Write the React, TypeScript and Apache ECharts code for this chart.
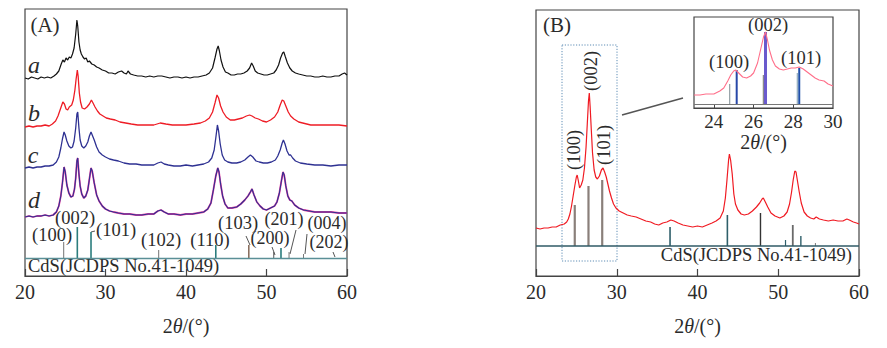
import React, { useEffect, useRef } from "react";
import * as echarts from "echarts";

const FONT = "'Liberation Serif', 'Times New Roman', serif";
const TXT = "#2b2b2b";

// ---------- Panel A curves (heights above frame bottom) ----------
const A_CURVE_A = [[20,198],[20.4,197],[20.8,199],[21.2,198],[21.6,197],[22,199],[22.4,198],[22.8,199],[23.2,198],[23.6,200],[23.9,202],[24.2,205],[24.5,212],[24.7,216],[24.9,214],[25.1,218],[25.3,216],[25.5,219],[25.7,218],[25.9,222],[26.1,228],[26.3,242],[26.45,256],[26.55,250],[26.7,234],[26.85,226],[27.0,222],[27.2,219],[27.4,217],[27.6,218],[27.8,214],[28.0,215],[28.3,212],[28.6,211],[28.9,209],[29.2,208],[29.6,206],[30.0,205],[30.4,203],[30.8,203],[31.2,202],[31.6,204],[32.0,205],[32.3,203],[32.6,202],[32.8,205],[33.1,202],[33.5,201],[34,200],[34.5,200],[35,199],[35.5,200],[36,199],[36.5,200],[37,200],[37.5,199],[38,198],[38.5,199],[39,199],[39.5,198],[40,199],[40.5,198],[41,199],[41.5,199],[42,200],[42.5,201],[42.9,203],[43.3,208],[43.6,218],[43.85,227],[44.0,230],[44.15,225],[44.35,216],[44.6,209],[44.9,204],[45.2,203],[45.6,201],[46.0,201],[46.4,202],[46.8,202],[47.2,203],[47.6,205],[47.9,208],[48.15,213],[48.35,210],[48.6,205],[48.9,203],[49.3,202],[49.7,201],[50.1,201],[50.5,202],[50.9,203],[51.2,206],[51.5,211],[51.75,218],[52.0,223],[52.15,224],[52.35,219],[52.6,213],[52.9,208],[53.2,205],[53.6,203],[54,202],[54.5,201],[55,200],[55.5,200],[56,199],[56.5,199],[57,200],[57.5,199],[58,199],[58.5,200],[59,200],[59.4,202],[59.7,203],[60,201]];
const A_CURVE_B = [[20,149],[20.5,150],[21,149],[21.5,150],[22,150],[22.5,151],[23,150],[23.4,152],[23.8,155],[24.1,160],[24.4,167],[24.7,174],[24.9,172],[25.1,167],[25.3,166],[25.5,169],[25.8,171],[26.0,176],[26.2,186],[26.35,197],[26.5,206],[26.6,200],[26.75,183],[26.9,174],[27.1,168],[27.4,167],[27.7,169],[28.0,172],[28.25,176],[28.45,173],[28.7,169],[29.0,165],[29.3,162],[29.7,160],[30.1,158],[30.6,157],[31.2,156],[31.8,154],[32.5,153],[33.2,152],[34,151],[35,151],[36,151],[36.8,153],[37.5,152],[38.3,151],[39,151],[40,151],[41,152],[41.8,153],[42.4,155],[42.9,158],[43.3,164],[43.6,173],[43.85,181],[44.05,178],[44.3,170],[44.6,164],[45.0,159],[45.5,156],[46.0,156],[46.5,157],[47.0,158],[47.5,160],[47.9,161],[48.2,160],[48.6,158],[49.0,157],[49.5,155],[50.0,154],[50.5,156],[51.0,159],[51.4,164],[51.7,171],[51.95,176],[52.15,175],[52.4,170],[52.7,164],[53.0,160],[53.4,157],[54,154],[54.5,153],[55,152],[55.5,151],[56,151],[57,151],[58,151],[59,151],[60,150]];
const A_CURVE_C = [[20,108],[20.5,109],[21,108],[21.5,109],[22,109],[22.5,110],[23,110],[23.5,111],[23.9,114],[24.2,119],[24.45,128],[24.65,137],[24.85,144],[25.0,141],[25.2,135],[25.45,130],[25.7,128],[25.9,129],[26.1,135],[26.3,148],[26.45,162],[26.55,164],[26.7,148],[26.85,136],[27.05,130],[27.3,128],[27.55,130],[27.8,134],[28.0,140],[28.2,144],[28.35,141],[28.6,136],[28.9,129],[29.2,124],[29.6,121],[30.0,119],[30.5,117],[31.0,116],[31.6,115],[32.3,113],[33,112],[33.8,112],[34.5,111],[35.3,111],[36.0,111],[36.5,113],[36.9,114],[37.3,112],[37.8,111],[38.5,110],[39.3,110],[40,111],[40.8,110],[41.5,111],[42.2,112],[42.8,114],[43.2,118],[43.5,126],[43.7,138],[43.9,151],[44.05,145],[44.25,132],[44.5,121],[44.8,116],[45.2,114],[45.7,113],[46.3,113],[46.8,114],[47.3,116],[47.7,119],[48.0,121],[48.3,119],[48.7,115],[49.1,114],[49.6,113],[50.1,113],[50.6,114],[51.1,116],[51.4,120],[51.7,126],[51.95,133],[52.1,136],[52.3,132],[52.55,125],[52.8,121],[53.0,121],[53.25,118],[53.6,115],[54.2,113],[55,112],[56,111],[57,111],[58,110],[59,111],[60,111]];
const A_CURVE_D = [[20,59],[20.5,60],[21,59],[21.5,60],[22,60],[22.5,61],[23,60],[23.5,61],[23.9,64],[24.2,70],[24.45,80],[24.65,93],[24.85,109],[25.0,104],[25.2,91],[25.45,83],[25.7,79],[25.95,80],[26.15,87],[26.3,98],[26.45,115],[26.55,118],[26.7,102],[26.85,90],[27.05,82],[27.3,78],[27.55,80],[27.8,86],[28.0,97],[28.2,108],[28.35,105],[28.6,93],[28.9,81],[29.2,75],[29.6,70],[30.0,67],[30.5,65],[31.0,64],[31.6,63],[32.3,62],[33,62],[33.8,61],[34.5,61],[35.3,62],[36.0,62],[36.5,65],[36.9,66],[37.3,64],[37.8,62],[38.5,62],[39.3,61],[40,62],[40.8,62],[41.5,63],[42.2,64],[42.7,67],[43.1,73],[43.4,86],[43.7,100],[43.95,108],[44.1,104],[44.3,92],[44.55,80],[44.85,72],[45.2,68],[45.7,68],[46.3,69],[46.8,72],[47.3,76],[47.7,80],[48.0,84],[48.2,87],[48.45,81],[48.8,74],[49.2,70],[49.6,67],[50.0,66],[50.5,68],[51.0,70],[51.3,74],[51.6,83],[51.85,95],[52.05,104],[52.2,101],[52.4,90],[52.65,80],[52.9,76],[53.15,75],[53.5,71],[54.0,68],[54.6,66],[55.3,65],[56,64],[57,64],[58,64],[59,63],[60,63]];

// reference sticks (JCPDS 41-1049)
const STICK_POS = [24.8, 26.5, 28.2, 36.6, 43.7, 47.8, 50.9, 51.8, 52.8, 54.6];
const A_STICK_TOP = [34, 49, 44, 26, 31, 31, 24, 28, 24, 22];
const A_STICK_BASE = 18;
const B_STICK_TOP = [71, 90, 96, 49, 61, 63, 36, 51, 40, 33];
const B_STICK_BASE = 30;

// ---------- Panel B curve ----------
const B_CURVE = [[20,48],[20.5,47],[21,48],[21.5,48],[22,49],[22.5,49],[23.0,51],[23.5,52],[23.8,54],[24.0,57],[24.2,62],[24.4,70],[24.6,80],[24.8,90],[25.0,99],[25.1,101],[25.25,95],[25.4,88],[25.6,91],[25.8,96],[26.0,108],[26.2,129],[26.35,152],[26.5,175],[26.6,183],[26.7,170],[26.85,146],[27.0,123],[27.2,106],[27.4,99],[27.6,97],[27.85,100],[28.1,106],[28.3,108],[28.5,104],[28.7,99],[28.9,92],[29.1,85],[29.35,78],[29.6,72],[29.9,68],[30.3,65],[30.8,63],[31.3,61],[31.8,60],[32.4,59],[33,57],[33.6,55],[34.2,54],[34.7,52],[35.2,51],[35.7,53],[36.2,54],[36.7,56],[37.1,55],[37.6,53],[38.2,51],[38.8,50],[39.4,49],[40,50],[40.6,49],[41.2,51],[41.8,53],[42.3,55],[42.8,58],[43.2,65],[43.45,78],[43.65,96],[43.85,116],[43.95,122],[44.1,116],[44.3,102],[44.5,82],[44.7,72],[45.0,66],[45.4,62],[45.8,61],[46.3,62],[46.8,65],[47.3,69],[47.7,73],[48.0,77],[48.15,78],[48.4,74],[48.7,69],[49.1,63],[49.6,60],[50.2,58],[50.7,60],[51.1,64],[51.4,72],[51.65,84],[51.85,96],[52.05,105],[52.2,104],[52.4,94],[52.6,84],[52.85,73],[53.2,64],[53.6,60],[54.0,58],[54.4,57],[54.7,59],[55.1,57],[55.6,56],[56.2,55],[56.8,56],[57.4,55],[58.0,55],[58.5,57],[58.8,56],[59.3,54],[59.7,53],[60,52]];

// ---------- Inset ----------
const INSET_CURVE = [[23.0,13],[23.3,13],[23.6,14],[24.0,14],[24.3,17],[24.5,20],[24.7,27],[24.85,33],[25.0,37],[25.1,38],[25.25,35],[25.45,31],[25.65,30],[25.85,32],[26.0,35],[26.2,45],[26.35,58],[26.5,71],[26.6,76],[26.7,68],[26.8,58],[26.95,48],[27.1,42],[27.3,39],[27.5,38],[27.7,39],[27.9,40],[28.1,40],[28.3,41],[28.5,39],[28.7,36],[28.9,33],[29.1,30],[29.3,28],[29.55,27],[29.75,24],[30.0,22]];
const INSET_STICK_POS = [24.8, 25.15, 26.5, 26.6, 28.2, 28.3];
const INSET_STICK_TOP = [24, 38, 33, 76, 35, 40];
const INSET_STICK_BASE = 4;

const X_TICKS = [20, 30, 40, 50, 60];
const INSET_TICKS = [24, 26, 28, 30];

// styles
const A_STICK_COLORS = ["#8a8a8a", "#2b7d7d", "#2b7d7d", "#8a8a8a", "#2b7d7d", "#8a7060", "#555", "#2b7d7d", "#777", "#777"];
const A_STICK_W = [1.2, 1.6, 1.6, 1.2, 1.6, 1.6, 1, 1.6, 1, 1];
const B_STICK_COLORS = ["#8a7f7a", "#8a7f7a", "#8a7f7a", "#2f5f6a", "#2f5f6a", "#333", "#2f5f6a", "#6a6a6a", "#2f5f6a", "#777"];
const B_STICK_W = [2.2, 2.2, 2.2, 1.6, 1.6, 1.4, 1.2, 1.8, 1.4, 1];
const IN_STICK_COLORS = ["#7a8a90", "#2848a8", "#8a8a8a", "#6a5acd", "#7a9ab0", "#2050a8"];
const IN_STICK_W = [1, 2, 1.5, 3, 1, 2];

function stickSeries(gridIdx: number, pos: number[], top: number[], base: number, colors: string[], widths: number[]) {
  return {
    type: "custom",
    xAxisIndex: gridIdx,
    yAxisIndex: gridIdx,
    silent: true,
    data: pos.map((p, i) => [p, top[i], i]),
    renderItem: (params: any, api: any) => {
      const x = api.value(0);
      const t = api.value(1);
      const i = api.value(2);
      const p0 = api.coord([x, base]);
      const p1 = api.coord([x, t]);
      return {
        type: "line",
        shape: { x1: p0[0], y1: p0[1], x2: p1[0], y2: p1[1] },
        style: { stroke: colors[i], lineWidth: widths[i] },
      };
    },
  };
}

function txt(text: string, x: number, y: number, size = 18.5, extra: any = {}) {
  return {
    type: "text",
    x,
    y,
    rotation: extra.rotation || 0,
    silent: true,
    style: {
      text,
      x: 0,
      y: 0,
      fill: TXT,
      font: `${extra.italic ? "italic " : ""}${size}px ${FONT}`,
      align: extra.align || "center",
      verticalAlign: "middle",
      textAlign: extra.align || "center",
      textVerticalAlign: "middle",
      rich: extra.rich,
    },
  };
}

function ln(x1: number, y1: number, x2: number, y2: number, color = "#444", w = 1) {
  return { type: "line", silent: true, shape: { x1, y1, x2, y2 }, style: { stroke: color, lineWidth: w } };
}

const thetaName = "2{i|θ}/(°)";
const thetaRich = { i: { fontStyle: "italic", fontFamily: FONT, fontSize: 20, color: TXT } };

function mainX(gridIndex: number) {
  return {
    type: "value",
    gridIndex,
    min: 20,
    max: 60,
    interval: 10,
    splitLine: { show: false },
    axisLine: { show: true, lineStyle: { color: "#444", width: 1.2 } },
    axisTick: { show: true, inside: true, length: 7, lineStyle: { color: "#444", width: 1.2 } },
    axisLabel: { show: true, fontFamily: FONT, fontSize: 20, color: TXT, margin: 6, showMinLabel: true, showMaxLabel: true, customValues: X_TICKS },
    name: thetaName,
    nameLocation: "middle",
    nameGap: 40,
    nameTextStyle: { fontFamily: FONT, fontSize: 20, color: TXT, rich: thetaRich },
  };
}

function hiddenY(gridIndex: number, max: number) {
  return { type: "value", gridIndex, min: 0, max, show: false, splitLine: { show: false } };
}

function lineSeries(idx: number, data: number[][], color: string, width: number, extra: any = {}) {
  return {
    type: "line",
    xAxisIndex: idx,
    yAxisIndex: idx,
    data,
    showSymbol: false,
    symbol: "none",
    silent: true,
    lineStyle: { color, width },
    ...extra,
  };
}

function hLine(value: number, color: string, width: number) {
  return {
    silent: true,
    symbol: ["none", "none"],
    label: { show: false },
    lineStyle: { color, width, type: "solid" },
    data: [{ yAxis: value }],
  };
}

export default function App() {
  const ref = useRef<HTMLDivElement>(null);
  useEffect(() => {
    if (!ref.current) return;
    const chart = echarts.init(ref.current, undefined, { renderer: "svg" });
    const option: any = {
      animation: false,
      backgroundColor: "#ffffff",
      grid: [
        { left: 25, top: 9, width: 322, height: 267, show: true, borderColor: "#444", borderWidth: 1.2, backgroundColor: "transparent" },
        { left: 536, top: 10, width: 323, height: 266, show: true, borderColor: "#444", borderWidth: 1.2, backgroundColor: "transparent" },
        { left: 694, top: 17, width: 139, height: 91, show: true, borderColor: "#444", borderWidth: 1.2, backgroundColor: "#fff" },
      ],
      xAxis: [
        mainX(0),
        mainX(1),
        {
          type: "value",
          gridIndex: 2,
          min: 23,
          max: 30,
          interval: 1,
          splitLine: { show: false },
          axisLine: { show: true, lineStyle: { color: "#444", width: 1.2 } },
          axisTick: { show: true, inside: true, length: 4, customValues: [24, 26, 28], lineStyle: { color: "#444" } },
          axisLabel: {
            show: true, fontFamily: FONT, fontSize: 19, color: TXT, margin: 4,
            customValues: INSET_TICKS,
            formatter: (v: number) => (v % 2 === 0 ? String(v) : ""),
          },
          name: thetaName,
          nameLocation: "middle",
          nameGap: 22,
          nameTextStyle: { fontFamily: FONT, fontSize: 20, color: TXT, rich: thetaRich },
        },
      ],
      yAxis: [hiddenY(0, 267), hiddenY(1, 266), hiddenY(2, 91)],
      series: [
        lineSeries(0, A_CURVE_A, "#111111", 1.2),
        lineSeries(0, A_CURVE_B, "#ee1c25", 1.3),
        lineSeries(0, A_CURVE_C, "#2e3192", 1.3),
        lineSeries(0, A_CURVE_D, "#e8409f", 1.8),
        lineSeries(0, A_CURVE_D, "#2e3192", 1.1, { markLine: hLine(A_STICK_BASE, "#5a8f96", 1.3) }),
        stickSeries(0, STICK_POS, A_STICK_TOP, A_STICK_BASE, A_STICK_COLORS, A_STICK_W),
        lineSeries(1, B_CURVE, "#f01a22", 1.2, { markLine: hLine(B_STICK_BASE, "#2f5a66", 1.5) }),
        stickSeries(1, STICK_POS, B_STICK_TOP, B_STICK_BASE, B_STICK_COLORS, B_STICK_W),
        lineSeries(2, INSET_CURVE, "#ff6f8a", 1.1, { z: 5, markLine: hLine(INSET_STICK_BASE, "#777", 1) }),
        { ...stickSeries(2, INSET_STICK_POS, INSET_STICK_TOP, INSET_STICK_BASE, IN_STICK_COLORS, IN_STICK_W), z: 4 },
      ],
      graphic: [
        // Panel A
        txt("(A)", 45, 25, 21),
        txt("a", 34, 65, 24, { italic: true }),
        txt("b", 34, 113, 24, { italic: true }),
        txt("c", 33, 155, 24, { italic: true }),
        txt("d", 34, 200, 24, { italic: true }),
        txt("(100)", 52, 235),
        txt("(002)", 75, 218),
        txt("(101)", 116, 230),
        txt("(102)", 161, 240),
        txt("(110)", 210, 240),
        txt("(103)", 238, 223),
        txt("(200)", 270, 238, 18),
        txt("(201)", 284, 219, 18),
        txt("(004)", 327, 223, 18),
        txt("(202)", 329, 242, 18),
        txt("CdS(JCDPS No.41-1049)", 28, 266, 18.5, { align: "left" }),
        ln(91, 232, 95, 231, "#555", 1),
        ln(246, 236, 250, 245, "#555", 1),
        ln(272, 247, 275, 255, "#555", 1),
        ln(296, 230, 290, 254, "#555", 1),
        ln(307, 234, 305, 254, "#555", 1),
        ln(333, 252, 335, 257, "#555", 1),
        // Panel B
        txt("(B)", 557, 25, 21),
        txt("(100)", 574, 150, 18.5, { rotation: Math.PI / 2 }),
        txt("(002)", 591, 71, 18.5, { rotation: Math.PI / 2 }),
        txt("(101)", 604, 145, 18.5, { rotation: Math.PI / 2 }),
        txt("CdS(JCDPS No.41-1049)", 852, 255, 18.5, { align: "right" }),
        {
          type: "rect",
          silent: true,
          shape: { x: 562, y: 45, width: 55, height: 216 },
          style: { fill: "none", stroke: "#5f8db5", lineWidth: 1, lineDash: [1.2, 1.6] },
        },
        ln(622, 115, 683, 98, "#555", 1.6),
        // Inset labels
        { ...txt("(100)", 729, 62), z: 100 },
        { ...txt("(002)", 768, 25), z: 100 },
        { ...txt("(101)", 801, 58), z: 100 },
      ],
    };
    chart.setOption(option);
    return () => chart.dispose();
  }, []);
  return <div ref={ref} style={{ position: "absolute", left: 0, top: 0, width: 887, height: 348 }} />;
}
